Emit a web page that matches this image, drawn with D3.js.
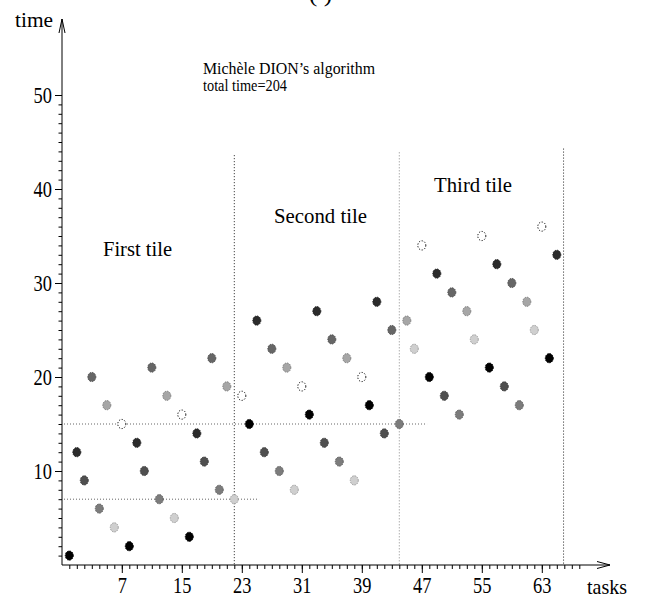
<!DOCTYPE html>
<html>
<head>
<meta charset="utf-8">
<script src="https://cdn.jsdelivr.net/npm/d3@7"></script>
<style>
  body { margin: 0; background: #fff; }
  svg { display: block; }
  text { font-family: "Liberation Serif", "Times New Roman", serif; fill: #000; }
</style>
</head>
<body>
<div id="chart"></div>
<script>
// Data: task completion times, one value per task (tasks 0..65)
var times = [
  1, 12, 9, 20, 6, 17, 4, 15,
  2, 13, 10, 21, 7, 18, 5, 16,
  3, 14, 11, 22, 8, 19, 7, 18,
  15, 26, 12, 23, 10, 21, 8, 19,
  16, 27, 13, 24, 11, 22, 9, 20,
  17, 28, 14, 25, 15, 26, 23, 34,
  20, 31, 18, 29, 16, 27, 24, 35,
  21, 32, 19, 30, 17, 28, 25, 36,
  22, 33
];
var xTicks = [7, 15, 23, 31, 39, 47, 55, 63];
var yTicks = [10, 20, 30, 40, 50];
// tile boundaries (task index) and top of each dotted line (time)
var tileBounds = [22, 44, 65.9];
var tileTops = [43.6, 43.9, 44.3];
// horizontal guides: time level and last task they reach
var guides = [{ t: 7, to: 25.3 }, { t: 15, to: 47.7 }];
var tileNames = ["First tile", "Second tile", "Third tile"];
// shade of each task inside its group of 8 (last one is hollow)
var shades = ["#000000", "#2b2b2b", "#4f4f4f", "#666666", "#7c7c7c", "#a6a6a6", "#cfcfcf", "#ffffff"];

var width = 646, height = 598;
var axisX = 62, axisY = 565;

var svg = d3.select('#chart').append('svg')
  .attr('width', width)
  .attr('height', height);

var x = d3.scaleLinear().domain([0, 68]).range([69.3, 579.3]);
var y = d3.scaleLinear().domain([0, 50]).range([axisY, 95]);

// helper for the narrow serif text of the figure
function label(str, px, py, size, w, anchor) {
  var t = svg.append('text')
    .attr('x', px)
    .attr('y', py)
    .style('font-size', size + 'px')
    .attr('text-anchor', anchor || 'start')
    .text(str);
  if (w) t.attr('textLength', w).attr('lengthAdjust', 'spacingAndGlyphs');
  return t;
}

// Dotted guides
svg.selectAll('.vguide')
  .data(tileBounds)
  .enter().append('line')
  .attr('class', 'vguide')
  .attr('x1', (d) => x(d))
  .attr('x2', (d) => x(d))
  .attr('y1', (d, i) => y(tileTops[i]))
  .attr('y2', axisY)
  .attr('stroke', (d, i) => i == 1 ? '#888' : '#222')
  .attr('stroke-width', 1)
  .attr('stroke-dasharray', '1,2');

svg.selectAll('.hguide')
  .data(guides)
  .enter().append('line')
  .attr('class', 'hguide')
  .attr('x1', axisX + 2)
  .attr('x2', (d) => x(d.to))
  .attr('y1', (d) => y(d.t))
  .attr('y2', (d) => y(d.t))
  .attr('stroke', '#666')
  .attr('stroke-width', 1)
  .attr('stroke-dasharray', '1,2');

// X axis: minor ticks on every task, major ticks with labels
var xMinor = d3.axisBottom(x)
  .tickValues(d3.range(0, 69))
  .tickSize(4)
  .tickSizeOuter(0)
  .tickFormat('');
svg.append('g')
  .attr('transform', `translate(0, ${axisY})`)
  .call(xMinor)
  .call((g) => g.select('.domain').remove());

var xAxis = d3.axisBottom(x)
  .tickValues(xTicks)
  .tickSize(8)
  .tickSizeOuter(0)
  .tickPadding(4)
  .tickFormat(d3.format('d'));
var gx = svg.append('g')
  .attr('transform', `translate(0, ${axisY})`)
  .call(xAxis)
  .call((g) => g.select('.domain').remove());
gx.selectAll('text')
  .style('font-size', '23px')
  .style('font-family', '"Liberation Serif", serif')
  .attr('transform', 'scale(0.8,1)');

// Y axis: minor ticks on every unit, major every 10
var yMinor = d3.axisLeft(y)
  .tickValues(d3.range(1, 51))
  .tickSize(3.5)
  .tickSizeOuter(0)
  .tickFormat('');
svg.append('g')
  .attr('transform', `translate(${axisX}, 0)`)
  .call(yMinor)
  .call((g) => g.select('.domain').remove());

var yAxis = d3.axisLeft(y)
  .tickValues(yTicks)
  .tickSize(7)
  .tickSizeOuter(0)
  .tickPadding(5.5)
  .tickFormat(d3.format('d'));
var gy = svg.append('g')
  .attr('transform', `translate(${axisX}, 0)`)
  .call(yAxis)
  .call((g) => g.select('.domain').remove());
gy.selectAll('text')
  .style('font-size', '23px')
  .style('font-family', '"Liberation Serif", serif')
  .attr('transform', 'scale(0.8,1)');

svg.selectAll('.tick line').attr('stroke', '#000');

// Axis lines with open arrow heads
svg.append('path')
  .attr('d', `M${axisX},${axisY}V19M${axisX - 3},33L${axisX},19L${axisX + 3},33`)
  .attr('fill', 'none')
  .attr('stroke', '#000')
  .attr('stroke-width', 1);
svg.append('path')
  .attr('d', `M${axisX},${axisY}H610M597,561.5L610,${axisY}L597,568.5`)
  .attr('fill', 'none')
  .attr('stroke', '#000')
  .attr('stroke-width', 1);

// Dots
svg.selectAll('.dot')
  .data(times)
  .enter().append('ellipse')
  .attr('class', 'dot')
  .attr('cx', (d, i) => x(i))
  .attr('cy', (d) => y(d))
  .attr('rx', 4)
  .attr('ry', 4.6)
  .attr('fill', (d, i) => shades[i % 8])
  .attr('stroke', (d, i) => i % 8 == 7 ? '#000' : d3.color(shades[i % 8]).darker(0.8))
  .attr('stroke-width', 1)
  .attr('stroke-dasharray', (d, i) => i % 8 == 7 ? '1.2,1.6' : '1.5,1');

// Texts
label('time', 15, 27, 21, 38);
label('tasks', 587, 594, 21, 40);
label('Michèle DION’s algorithm', 203, 74, 16, 172);
label('total time=204', 203, 91, 16, 84);
label(tileNames[0], 103, 256, 21, 69);
label(tileNames[1], 274, 223, 21, 93);
label(tileNames[2], 434, 192, 21, 78);
label('( )', 309, 2, 22, 23);
</script>
</body>
</html>
